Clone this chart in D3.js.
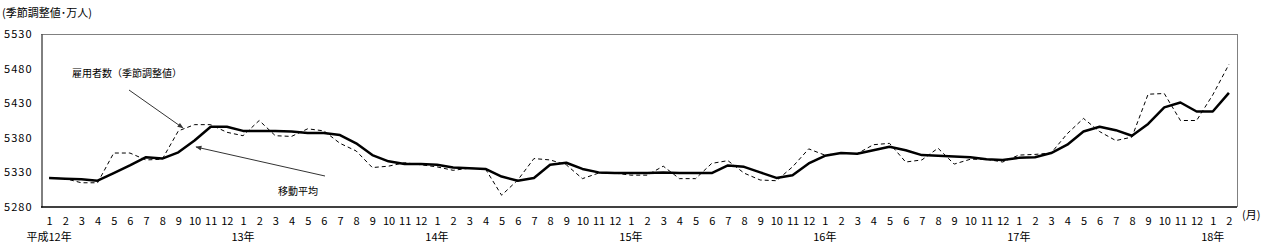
<!DOCTYPE html>
<html lang="ja">
<head>
<meta charset="UTF-8">
<title>雇用者数の推移</title>
<script src="https://d3js.org/d3.v7.min.js"></script>
<style>
    body { margin: 0; background: #fff; }
    svg text { font-family: "Noto Sans CJK JP", "Liberation Sans", sans-serif; fill: #000; }
</style>
</head>
<body>
<script>
// month tick labels, 平成12年1月 .. 18年2月
const months = ["1","2","3","4","5","6","7","8","9","10","11","12",
                "1","2","3","4","5","6","7","8","9","10","11","12",
                "1","2","3","4","5","6","7","8","9","10","11","12",
                "1","2","3","4","5","6","7","8","9","10","11","12",
                "1","2","3","4","5","6","7","8","9","10","11","12",
                "1","2","3","4","5","6","7","8","9","10","11","12",
                "1","2"];
const years = ["平成12年","13年","14年","15年","16年","17年","18年"];

// 雇用者数 (季節調整値), dashed
const actual = [5322,5321,5315,5315,5358,5358,5348,5349,5390,5399,5399,5388,
                5383,5405,5383,5382,5393,5390,5372,5361,5337,5339,5344,5341,
                5338,5333,5336,5335,5297,5319,5350,5348,5341,5321,5329,5329,
                5326,5326,5339,5321,5321,5343,5347,5329,5319,5318,5338,5364,
                5355,5358,5357,5370,5372,5345,5348,5365,5342,5349,5349,5345,
                5355,5356,5358,5386,5408,5389,5376,5381,5443,5444,5405,5405,
                5442,5486];
// 移動平均, solid
const movingAvg = [5322,5321,5320,5318,5329,5340,5352,5350,5359,5376,5396,5396,
                   5390,5390,5390,5389,5387,5387,5384,5372,5355,5346,5342,5342,
                   5341,5337,5336,5335,5324,5318,5322,5341,5344,5335,5330,5329,
                   5329,5329,5330,5329,5329,5329,5340,5338,5330,5322,5326,5343,
                   5354,5358,5357,5362,5367,5362,5355,5354,5353,5352,5349,5348,
                   5351,5352,5358,5370,5389,5396,5391,5383,5400,5424,5431,5418,
                   5418,5445];
const yTicks = [5280,5330,5380,5430,5480,5530];

const W = 1262, H = 252;
const plotL = 41, plotR = 1237, plotT = 34, plotB = 207;

const svg = d3.select("body").append("svg")
    .attr("width", W).attr("height", H);

const idx = d3.range(months.length);
const x = d3.scalePoint().domain(idx).range([plotL, plotR]).padding(0.5);
const y = d3.scaleLinear().domain([5280, 5530]).range([plotB, plotT]);

// frame: gray top/right, black axes
svg.append("line").attr("x1", plotL).attr("x2", plotR).attr("y1", plotT + 0.5).attr("y2", plotT + 0.5)
    .attr("stroke", "#808080").attr("stroke-width", 1);
svg.append("line").attr("x1", plotR + 0.5).attr("x2", plotR + 0.5).attr("y1", plotT).attr("y2", plotB)
    .attr("stroke", "#808080").attr("stroke-width", 1);

// y axis
const yAxis = svg.append("g")
    .attr("transform", `translate(${plotL + 0.5},0)`)
    .call(d3.axisLeft(y).tickValues(yTicks).tickSize(0).tickPadding(9).tickFormat(d3.format("d")));
yAxis.select(".domain").attr("stroke", "#000");
yAxis.selectAll("text").style("font-size", "11px").attr("letter-spacing", "1px")
    .style("font-family", "\"Noto Sans CJK JP\", sans-serif");

// x axis
const xAxis = svg.append("g")
    .attr("transform", `translate(0,${plotB})`)
    .call(d3.axisBottom(x).tickSize(0).tickPadding(10).tickFormat(i => months[i]));
xAxis.select(".domain").attr("stroke", "#000").attr("stroke-width", 1.5)
    .attr("d", `M${plotL},0H${plotR}`);
xAxis.selectAll("text").style("font-size", "11px")
    .style("font-family", "\"Noto Sans CJK JP\", sans-serif");

// year labels under each January
const janIdx = idx.filter(i => months[i] === "1");
svg.selectAll(".year").data(years).join("text")
    .attr("class", "year")
    .attr("x", (d, k) => x(janIdx[k]))
    .attr("y", 241)
    .attr("text-anchor", "middle")
    .style("font-size", "11px")
    .text(d => d);

svg.append("text").attr("x", 1242).attr("y", 219).style("font-size", "11px").text("(月)");
svg.append("text").attr("x", 2).attr("y", 17).style("font-size", "11px").text("(季節調整値･万人)");

// series
const line = d3.line()
    .x((d, i) => x(i))
    .y(d => y(d));

svg.append("path").datum(actual)
    .attr("d", line)
    .attr("fill", "none")
    .attr("stroke", "#000")
    .attr("stroke-width", 1)
    .attr("stroke-dasharray", "4,3");

svg.append("path").datum(movingAvg)
    .attr("d", line)
    .attr("fill", "none")
    .attr("stroke", "#000")
    .attr("stroke-width", 2.5)
    .attr("stroke-linejoin", "round");

// annotations
const defs = svg.append("defs");
defs.append("marker").attr("id", "arr")
    .attr("viewBox", "0 0 10 10").attr("refX", 9).attr("refY", 5)
    .attr("markerWidth", 8).attr("markerHeight", 6).attr("orient", "auto")
    .append("path").attr("d", "M0,1L10,5L0,9z").attr("fill", "#333");

svg.append("text").attr("x", 72).attr("y", 77).style("font-size", "10px").text("雇用者数（季節調整値）");
svg.append("line").attr("x1", 129).attr("y1", 90).attr("x2", 183).attr("y2", 128)
    .attr("stroke", "#333").attr("stroke-width", 1).attr("marker-end", "url(#arr)");

svg.append("text").attr("x", 278).attr("y", 195).style("font-size", "10px").text("移動平均");
svg.append("line").attr("x1", 325).attr("y1", 176).attr("x2", 196).attr("y2", 147)
    .attr("stroke", "#333").attr("stroke-width", 1).attr("marker-end", "url(#arr)");
</script>
</body>
</html>
